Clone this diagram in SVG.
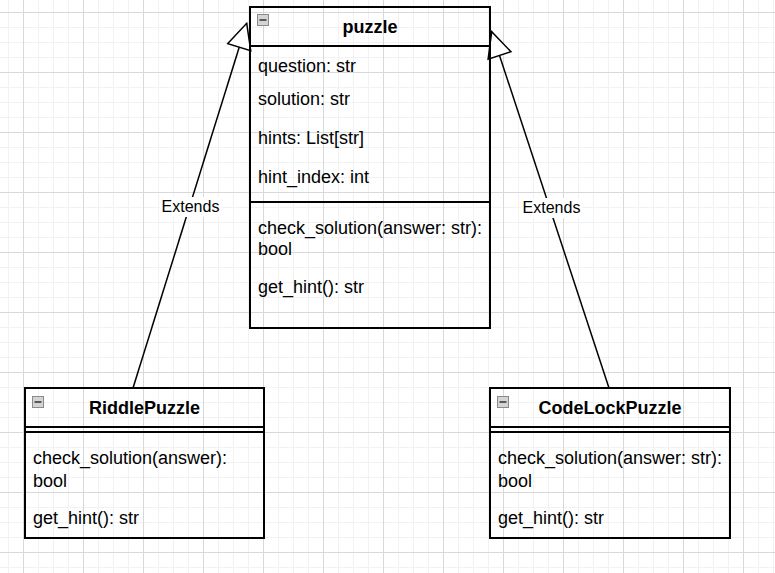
<svg xmlns="http://www.w3.org/2000/svg" width="775" height="573" viewBox="0 0 775 573">
  <style>
    .box { fill: none; stroke: #000; stroke-width: 2; }
    .sep { stroke: #000; stroke-width: 2; }
    .title { font-family: "Liberation Sans", Arial, sans-serif; font-size: 18px; font-weight: bold; fill: #000; text-anchor: middle; }
    .member { font-family: "Liberation Sans", Arial, sans-serif; font-size: 18px; fill: #000; }
    .lbl { font-family: "Liberation Sans", Arial, sans-serif; font-size: 16px; fill: #000; text-anchor: middle; }
    .edge { fill: none; stroke: #000; stroke-width: 1.5; }
    .icon { fill: #d4d4d4; stroke: #8a8a8a; stroke-width: 1; }
    .minus { stroke: #333; stroke-width: 1.5; }
  </style>
  <defs>
    <pattern id="grid" patternUnits="userSpaceOnUse" x="23" y="12" width="60" height="60">
      <rect x="15" y="0" width="1" height="60" fill="#f2f2f2"/>
      <rect x="30" y="0" width="1" height="60" fill="#f2f2f2"/>
      <rect x="45" y="0" width="1" height="60" fill="#f2f2f2"/>
      <rect x="0" y="15" width="60" height="1" fill="#f2f2f2"/>
      <rect x="0" y="30" width="60" height="1" fill="#f2f2f2"/>
      <rect x="0" y="45" width="60" height="1" fill="#f2f2f2"/>
      <rect x="0" y="0" width="1" height="60" fill="#d8d8d8"/>
      <rect x="0" y="0" width="60" height="1" fill="#d8d8d8"/>
    </pattern>
    <marker id="extends" markerUnits="userSpaceOnUse" viewBox="-2 -2 29 28" markerWidth="29" markerHeight="28" refX="25" refY="12" orient="auto">
      <path d="M0,0 L25,12 L0,24 Z" fill="#fff" stroke="#000" stroke-width="1.5"/>
    </marker>
    <g id="collapse">
      <rect class="icon" x="0.5" y="0.5" width="11" height="11"/>
      <line class="minus" x1="2.5" y1="6" x2="9.5" y2="6"/>
    </g>
  </defs>

  <rect width="775" height="573" fill="#fff"/>
  <rect width="775" height="573" fill="url(#grid)"/>

  <g id="connectors">
    <line class="edge" x1="133" y1="388" x2="246.7" y2="23.3" marker-end="url(#extends)"/>
    <line class="edge" x1="609" y1="388" x2="491.7" y2="31.7" marker-end="url(#extends)"/>
    <rect x="160" y="197" width="61" height="20" fill="#fff"/>
    <text class="lbl" x="190.5" y="212">Extends</text>
    <rect x="521" y="198" width="61" height="20" fill="#fff"/>
    <text class="lbl" x="551.5" y="213">Extends</text>
  </g>

  <g id="puzzle">
    <rect class="box" x="250" y="7" width="240" height="321"/>
    <line class="sep" x1="250" y1="46" x2="490" y2="46"/>
    <use href="#collapse" x="257" y="14"/>
    <text class="title" x="370" y="33">puzzle</text>
    <text class="member" x="258" y="72">question: str</text>
    <text class="member" x="258" y="105">solution: str</text>
    <text class="member" x="258" y="144">hints: List[str]</text>
    <text class="member" x="258" y="183">hint_index: int</text>
    <line class="sep" x1="250" y1="202" x2="490" y2="202"/>
    <text class="member" x="258" y="234">check_solution(answer: str):</text>
    <text class="member" x="258" y="255">bool</text>
    <text class="member" x="258" y="293">get_hint(): str</text>
  </g>

  <g id="RiddlePuzzle">
    <rect class="box" x="25" y="388" width="239" height="150"/>
    <line class="sep" x1="25" y1="427" x2="264" y2="427"/>
    <line class="sep" x1="25" y1="432" x2="264" y2="432"/>
    <use href="#collapse" x="32" y="396"/>
    <text class="title" x="144.5" y="414">RiddlePuzzle</text>
    <text class="member" x="33" y="464">check_solution(answer):</text>
    <text class="member" x="33" y="487">bool</text>
    <text class="member" x="33" y="524">get_hint(): str</text>
  </g>

  <g id="CodeLockPuzzle">
    <rect class="box" x="490" y="388" width="240" height="150"/>
    <line class="sep" x1="490" y1="427" x2="730" y2="427"/>
    <line class="sep" x1="490" y1="432" x2="730" y2="432"/>
    <use href="#collapse" x="497" y="396"/>
    <text class="title" x="610" y="414">CodeLockPuzzle</text>
    <text class="member" x="498" y="464">check_solution(answer: str):</text>
    <text class="member" x="498" y="487">bool</text>
    <text class="member" x="498" y="524">get_hint(): str</text>
  </g>
</svg>
